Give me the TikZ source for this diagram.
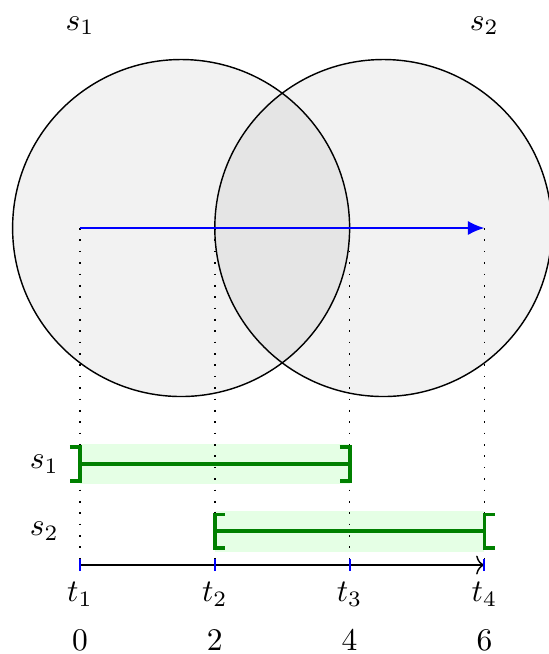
\documentclass[tikz,border=0pt]{standalone}
\usetikzlibrary{arrows.meta}
\begin{document}
\begin{tikzpicture}[x=1cm,y=1cm,
  every node/.style={scale=1.33,transform shape,inner sep=1pt},
  circ/.style={draw=black,line width=0.6pt},
  dotline/.style={line width=0.7pt,dash pattern=on 0.7pt off 4.1pt},
  bar/.style={green!50!black,line width=1.6pt},
  band/.style={fill=green!10,draw=none},
  tick/.style={blue,line width=0.8pt}]
\useasboundingbox (-1.187,-1.32) rectangle (6.944,8.383);
% circles
\coordinate (c1) at (1.5,5);
\coordinate (c2) at (4.5,5);
\fill[gray!10] (c1) circle (2.5);
\fill[gray!10] (c2) circle (2.5);
\begin{scope}
  \clip (c1) circle (2.5);
  \fill[gray!20] (c2) circle (2.5);
\end{scope}
\draw[circ] (c1) circle (2.5);
\draw[circ] (c2) circle (2.5);
\node (L1) at (0,8) {$s_1$};
\node (L2) at (6,8) {$s_2$};
% bands
\fill[band] (0,1.2) rectangle (4,1.8);
\fill[band] (2,0.2) rectangle (6,0.8);
% coordinates
\foreach \i/\x in {1/0,2/2,3/4,4/6}{
  \coordinate (a\i) at (\x,5);
  \coordinate (b\i) at (\x,0);
}
% dotted lines
\foreach \i in {1,2,3,4}{
  \draw[dotline] (a\i) -- (b\i);
}
% blue arrow
\draw[blue,line width=0.8pt,-{Latex[length=7pt,width=6pt]}] (a1) -- (a4);
% interval bars
\coordinate (s1a) at (0,1.5);
\coordinate (s1b) at (4,1.5);
\coordinate (s2a) at (2,0.5);
\coordinate (s2b) at (6,0.5);
\draw[bar] (s1a) -- (s1b);
\draw[bar] (s2a) -- (s2b);
\draw[bar] ([xshift=-0.15cm,yshift=0.25cm]s1a) -- ([yshift=0.25cm]s1a) -- ([yshift=-0.25cm]s1a) -- ([xshift=-0.15cm,yshift=-0.25cm]s1a);
\draw[bar] ([xshift=-0.15cm,yshift=0.25cm]s1b) -- ([yshift=0.25cm]s1b) -- ([yshift=-0.25cm]s1b) -- ([xshift=-0.15cm,yshift=-0.25cm]s1b);
\draw[bar] ([xshift=0.15cm,yshift=0.25cm]s2a) -- ([yshift=0.25cm]s2a) -- ([yshift=-0.25cm]s2a) -- ([xshift=0.15cm,yshift=-0.25cm]s2a);
\draw[bar] ([xshift=0.15cm,yshift=0.25cm]s2b) -- ([yshift=0.25cm]s2b) -- ([yshift=-0.25cm]s2b) -- ([xshift=0.15cm,yshift=-0.25cm]s2b);
\node (S1) at (-0.53,1.5) {$s_1$};
\node (S2) at (-0.53,0.5) {$s_2$};
% timeline
\draw[line width=0.6pt,-{To[length=3.5pt,width=8pt]}] (b1) -- (b4);
\foreach \i/\v in {1/0,2/2,3/4,4/6}{
  \draw[tick] ([yshift=-0.09cm]b\i) -- ([yshift=0.09cm]b\i);
  \node (t\i) at ([yshift=-0.43cm]b\i) {$t_\i$};
  \node (n\i) at ([yshift=-1.12cm]b\i) {$\v$};
}
\end{tikzpicture}
\end{document}
